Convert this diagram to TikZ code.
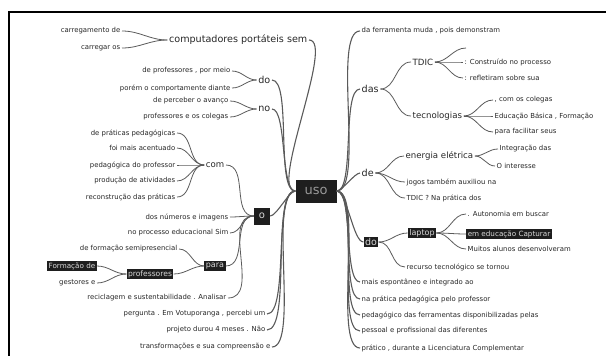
\documentclass[tikz,border=0pt]{standalone}
\usepackage{fontspec}
\setmainfont{DejaVu Sans}
\definecolor{linegray}{HTML}{5A5A5A}
\definecolor{boxfill}{HTML}{1E1E1E}
\definecolor{boxtext}{HTML}{D8D8D8}
\tikzset{
leaf/.style={font=\fontsize{6.9}{8}\selectfont,inner sep=1.5pt,text=black!85},
twig/.style={font=\fontsize{8.6}{10}\selectfont,inner sep=1.5pt,text=black!85},
stem/.style={font=\fontsize{9.6}{11}\selectfont,inner sep=1.5pt,text=black!85},
dark/.style={fill=boxfill,text=boxtext,inner sep=1.5pt},
branch/.style={draw=linegray,line width=0.8pt},
trunk/.style={branch,line width=1.1pt,looseness=0.45}
}

\begin{document}
\begin{tikzpicture}[x=1pt,y=-1pt]
\useasboundingbox (0,0) rectangle (606,356);
\draw[line width=1.3pt] (9,356) -- (9,12) -- (606,12);

\node[dark,font=\fontsize{13}{14}\selectfont,text=black!40,minimum width=41pt,minimum height=23pt] (uso) at (316,191) {uso};

% left half
\node[stem,anchor=east] (comp) at (309,40) {computadores portáteis sem};
\node[leaf,anchor=east] (comp1) at (122,31) {carregamento de};
\node[leaf,anchor=east] (comp2) at (122,48) {carregar os};
\node[stem,anchor=east] (doL) at (272,80) {do};
\node[leaf,anchor=east] (doL1) at (232,71) {de professores , por meio};
\node[leaf,anchor=east] (doL2) at (232,88) {porém o comportamente diante};
\node[stem,anchor=east] (no) at (272,109) {no};
\node[leaf,anchor=east] (no1) at (230,101) {de perceber o avanço};
\node[leaf,anchor=east] (no2) at (230,117) {professores e os colegas};
\node[dark,font=\fontsize{10}{12}\selectfont,minimum width=16pt,minimum height=17pt] (o) at (262,216) {o};
\node[twig,anchor=east] (com) at (226,165) {com};
\foreach \y/\t in {133/de práticas pedagógicas,148/foi mais acentuado,165/pedagógica do professor,181/produção de atividades,197/reconstrução das práticas}{
  \node[leaf,anchor=east] (com\y) at (177,\y) {\t};
  \draw[branch] (com.west) to[out=180,in=0] (com\y.east);
}
\node[leaf,anchor=east] (o1) at (230,217) {dos números e imagens};
\node[leaf,anchor=east] (o2) at (230,233) {no processo educacional Sim};
\node[dark,font=\fontsize{8}{9}\selectfont] (para) at (215,266) {para};
\node[leaf,anchor=east] (para1) at (179,249) {de formação semipresencial};
\node[dark,font=\fontsize{7.6}{9}\selectfont] (prof) at (150,274) {professores};
\node[dark,font=\fontsize{7.2}{8}\selectfont] (prof1) at (72,266) {Formação de};
\node[leaf,anchor=east] (prof2) at (97,283) {gestores e};
\node[leaf,anchor=east] (o3) at (228,298) {reciclagem e sustentabilidade . Analisar};
\node[leaf,anchor=east] (l1) at (267,314) {pergunta . Em Votuporanga , percebi um};
\node[leaf,anchor=east] (l2) at (267,330) {projeto durou 4 meses . Não};
\node[leaf,anchor=east] (l3) at (272,347) {transformações e sua compreensão e};

\foreach \n in {comp1,comp2}{\draw[branch] (comp.west) to[out=180,in=0] (\n.east);}
\foreach \n in {doL1,doL2}{\draw[branch] (doL.west) to[out=180,in=0] (\n.east);}
\foreach \n in {no1,no2}{\draw[branch] (no.west) to[out=180,in=0] (\n.east);}
\foreach \n in {com,o1,o2,para,o3}{\draw[branch] (o.west) to[out=180,in=0] (\n.east);}
\foreach \n in {para1,prof}{\draw[branch] (para.west) to[out=180,in=0] (\n.east);}
\foreach \n in {prof1,prof2}{\draw[branch] (prof.west) to[out=180,in=0] (\n.east);}
\foreach \n in {comp,doL,no,o,l1,l2,l3}{\draw[trunk] (uso.west) to[out=180,in=0] (\n.east);}

% right half
\node[leaf,anchor=west] (muda) at (360,31) {da ferramenta muda , pois demonstram};
\node[stem,anchor=west] (das) at (360,89) {das};
\node[twig,anchor=west] (tdic) at (411,62) {TDIC};
\coordinate (tdic0) at (466,48);
\node[leaf,anchor=west] (tdic1) at (463,62) {: Construído no processo};
\node[leaf,anchor=west] (tdic2) at (463,78) {: refletiram sobre sua};
\node[twig,anchor=west] (tec) at (411,116) {tecnologias};
\node[leaf,anchor=west] (tec1) at (493,100) {, com os colegas};
\node[leaf,anchor=west] (tec2) at (493,116) {Educação Básica , Formação};
\node[leaf,anchor=west] (tec3) at (493,132) {para facilitar seus};
\node[stem,anchor=west] (de) at (360,173) {de};
\node[twig,anchor=west] (ener) at (404,156) {energia elétrica};
\node[leaf,anchor=west] (ener1) at (498,149) {Integração das};
\node[leaf,anchor=west] (ener2) at (495,166) {O interesse};
\node[leaf,anchor=west] (de1) at (405,182) {jogos também auxiliou na};
\node[leaf,anchor=west] (de2) at (405,198) {TDIC ? Na prática dos};
\node[dark,font=\fontsize{9.5}{11}\selectfont] (doR) at (371,242) {do};
\node[dark,font=\fontsize{8}{9}\selectfont] (lap) at (422,233) {laptop};
\node[leaf,anchor=west] (lap1) at (466,214) {. Autonomia em buscar};
\node[dark,font=\fontsize{7.2}{8}\selectfont] (lap2) at (509,234) {em educação Capturar};
\node[leaf,anchor=west] (lap3) at (466,249) {Muitos alunos desenvolveram};
\node[leaf,anchor=west] (doR1) at (405,267) {recurso tecnológico se tornou};

\draw[branch] (tdic.east) to[out=0,in=180] (tdic0);
\foreach \n in {tdic1,tdic2}{\draw[branch] (tdic.east) to[out=0,in=180] (\n.west);}
\foreach \n in {tec1,tec2,tec3}{\draw[branch] (tec.east) to[out=0,in=180] (\n.west);}
\foreach \n in {tdic,tec}{\draw[branch] (das.east) to[out=0,in=180] (\n.west);}
\foreach \n in {ener1,ener2}{\draw[branch] (ener.east) to[out=0,in=180] (\n.west);}
\foreach \n in {ener,de1,de2}{\draw[branch] (de.east) to[out=0,in=180] (\n.west);}
\foreach \n in {lap1,lap2,lap3}{\draw[branch] (lap.east) to[out=0,in=180] (\n.west);}
\foreach \n in {lap,doR1}{\draw[branch] (doR.east) to[out=0,in=180] (\n.west);}
\foreach \n in {muda,das,de,doR}{\draw[trunk] (uso.east) to[out=0,in=180] (\n.west);}
\foreach \y/\t in {282/mais espontâneo e integrado ao,299/na prática pedagógica pelo professor,315/pedagógico das ferramentas disponibilizadas pelas,331/pessoal e profissional das diferentes,348/{prático , durante a Licenciatura Complementar}}{
  \node[leaf,anchor=west] (r\y) at (360,\y) {\t};
  \draw[trunk] (uso.east) to[out=0,in=180] (r\y.west);
}
\end{tikzpicture}
\end{document}
